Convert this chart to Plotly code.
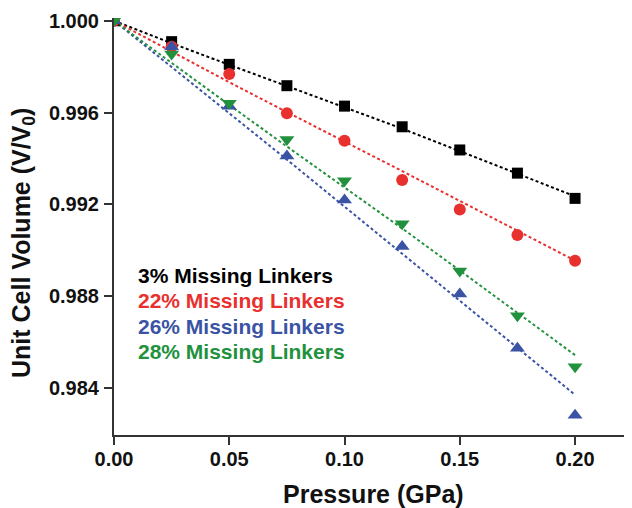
import plotly.graph_objects as go

pressure = [0.0, 0.025, 0.05, 0.075, 0.1, 0.125, 0.15, 0.175, 0.2]

ml3 = [1.0, 0.99909, 0.9981, 0.99717, 0.99628, 0.99538, 0.99437, 0.99336, 0.99226]
ml22 = [1.0, 0.99887, 0.99768, 0.99597, 0.99477, 0.99306, 0.99178, 0.99066, 0.98954]
ml26 = [1.0, 0.99887, 0.99627, 0.99411, 0.99219, 0.99016, 0.98809, 0.98573, 0.98281]
ml28 = [1.0, 0.99855, 0.99640, 0.99483, 0.99303, 0.99115, 0.98910, 0.98715, 0.98492]

fit3 = [1.0, 0.99902, 0.99808, 0.99715, 0.99622, 0.99530, 0.99432, 0.99335, 0.99235]
fit22 = [1.0, 0.99865, 0.99732, 0.99602, 0.99475, 0.99345, 0.99215, 0.99085, 0.98955]
fit26 = [1.0, 0.99798, 0.99600, 0.99395, 0.99190, 0.98985, 0.98780, 0.98575, 0.98370]
fit28 = [1.0, 0.99815, 0.99633, 0.99452, 0.99275, 0.99095, 0.98912, 0.98728, 0.98543]

labels = ["3% Missing Linkers", "22% Missing Linkers", "26% Missing Linkers", "28% Missing Linkers"]
colors = ["#000000", "#e8312f", "#3a53a4", "#22913d"]
symbols = ["square", "circle", "triangle-up", "triangle-down"]
msizes = [11, 12, 13, 13]
series = [ml3, ml22, ml26, ml28]
fits = [fit3, fit22, fit26, fit28]

FONT = "Liberation Sans, Arial, sans-serif"
# page body has an 8px margin; figure is sized to fit the window
OFF = 8
W, H = 632 - OFF, 508 - OFF
ml, mt = 114 - OFF, 18 - OFF
mb = H - (435 - OFF)
mr = 0
pw, ph = W - ml - mr, H - mt - mb


def px2paper(px, py):
    return (px - OFF - ml) / pw, 1 - (py - OFF - mt) / ph


fig = go.Figure()
for lab, col, fv in zip(labels, colors, fits):
    fig.add_trace(go.Scatter(x=pressure, y=fv, mode="lines",
                             line=dict(color=col, width=2, dash="3px,2.5px"),
                             showlegend=False, hoverinfo="skip"))
for lab, col, sym, ms, yv in zip(labels, colors, symbols, msizes, series):
    fig.add_trace(go.Scatter(x=pressure, y=yv, mode="markers", name=lab,
                             marker=dict(color=col, symbol=sym, size=ms, line=dict(width=0)),
                             showlegend=False))

for i, (lab, col) in enumerate(zip(labels, colors)):
    ax, ay = px2paper(136, 275 + i * 25.5)
    fig.add_annotation(text="<b>%s</b>" % lab, x=ax, y=ay, xref="paper", yref="paper",
                       xanchor="left", yanchor="middle", showarrow=False,
                       font=dict(family=FONT, size=21, color=col))

tx, ty = px2paper(373, 494)
fig.add_annotation(text="<b>Pressure (GPa)</b>", x=tx, y=ty, xref="paper", yref="paper",
                   xanchor="center", yanchor="middle", showarrow=False,
                   font=dict(family=FONT, size=25, color="#111111"))
yx, yy = px2paper(23, 243)
fig.add_annotation(text="<b>Unit Cell Volume (V/V<sub>0</sub>)</b>", x=yx, y=yy,
                   xref="paper", yref="paper", xanchor="center", yanchor="middle",
                   textangle=-90, showarrow=False,
                   font=dict(family=FONT, size=25, color="#111111"))

fig.update_layout(
    width=W, height=H,
    margin=dict(l=ml, r=mr, t=mt, b=mb, autoexpand=False),
    paper_bgcolor="white", plot_bgcolor="white",
    font=dict(family=FONT, color="#111111"),
)
fig.update_xaxes(
    range=[0, 0.2247], tickvals=[0, 0.05, 0.1, 0.15, 0.2], tickformat=".2f",
    showgrid=False, zeroline=False, showline=True, linecolor="#333333", linewidth=2,
    ticks="outside", ticklen=8, tickwidth=2, tickcolor="#333333", automargin=False,
    ticklabelstandoff=-3,
    tickfont=dict(size=20, family=FONT, weight="bold"),
)
fig.update_yaxes(
    range=[0.98195, 1.00012], tickvals=[0.984, 0.988, 0.992, 0.996, 1.0], tickformat=".3f",
    showgrid=False, zeroline=False, showline=True, linecolor="#333333", linewidth=2,
    ticks="outside", ticklen=8, tickwidth=2, tickcolor="#333333", automargin=False,
    ticklabelstandoff=1,
    tickfont=dict(size=20, family=FONT, weight="bold"),
)

fig.write_html("out.html")
